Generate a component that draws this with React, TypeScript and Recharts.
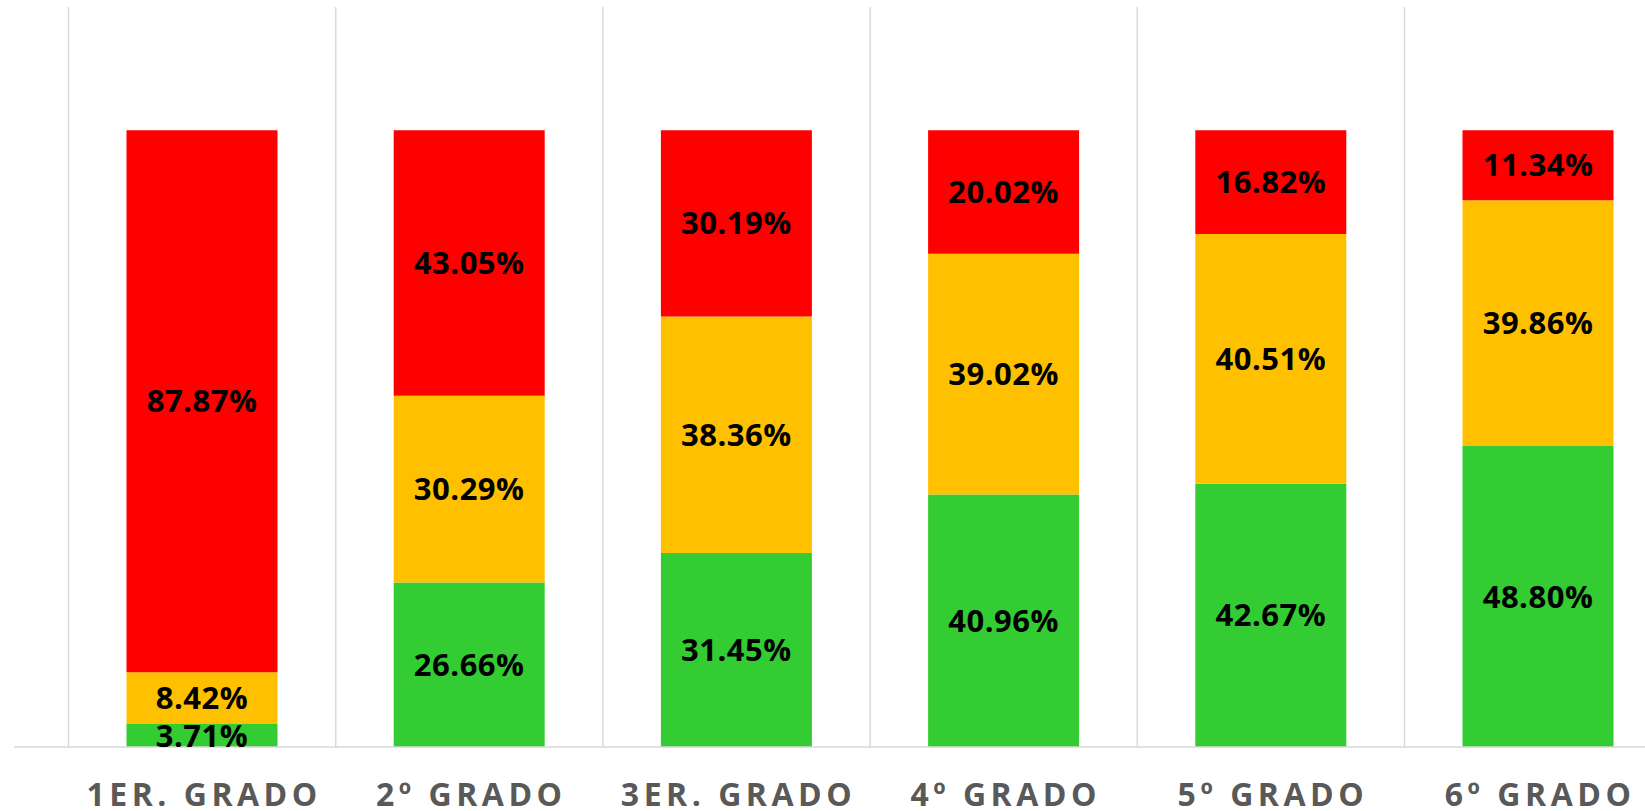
import React from 'react';
import { BarChart, Bar, XAxis, YAxis, LabelList, ReferenceLine } from 'recharts';

// grados y porcentajes por nivel de logro
const grados = ['1ER. GRADO', '2º GRADO', '3ER. GRADO', '4º GRADO', '5º GRADO', '6º GRADO'];
const verde = [3.71, 26.66, 31.45, 40.96, 42.67, 48.8];
const amarillo = [8.42, 30.29, 38.36, 39.02, 40.51, 39.86];
const rojo = [87.87, 43.05, 30.19, 20.02, 16.82, 11.34];

const data = grados.map((g, i) => ({
  grado: g,
  verde: verde[i],
  amarillo: amarillo[i],
  rojo: rojo[i],
}));

const GRID = '#d9d9d9';
const FONT = '"Open Sans", "Liberation Sans", sans-serif';

const fmt = (v: any) => `${Number(v).toFixed(2)}%`;

const labelStyle = {
  fill: '#000',
  fontSize: 31,
  fontWeight: 700,
  fontFamily: FONT,
  letterSpacing: 0.5,
};

function GradoTick({ x, y, payload }: any) {
  return (
    <text
      x={x + 2}
      y={y + 59}
      textAnchor="middle"
      fill="#595959"
      fontSize={32}
      fontWeight={700}
      fontFamily={FONT}
      letterSpacing={4.5}
    >
      {payload.value}
    </text>
  );
}

export default function App() {
  return (
    <div
      style={{
        position: 'absolute',
        left: 0,
        top: 0,
        width: 1645,
        height: 811,
        overflow: 'hidden',
        background: '#fff',
      }}
    >
      <BarChart
        width={1700}
        height={811}
        data={data}
        margin={{ top: 7, right: 0, left: 14, bottom: 0 }}
      >
        <XAxis
          dataKey="grado"
          height={64}
          padding={{ left: 54.5, right: 28.3 }}
          axisLine={{ stroke: GRID, strokeWidth: 1.5 }}
          tickLine={false}
          tickSize={0}
          tickMargin={0}
          interval={0}
          tick={<GradoTick />}
        />
        <YAxis hide domain={[0, 120]} />
        {grados.map((g) => (
          <ReferenceLine
            key={g}
            x={g}
            position="start"
            stroke={GRID}
            strokeWidth={1.5}
            ifOverflow="visible"
          />
        ))}
        <Bar dataKey="verde" stackId="a" fill="#33CC33" barSize={151} isAnimationActive={false}>
          <LabelList dataKey="verde" position="center" formatter={fmt} style={labelStyle} />
        </Bar>
        <Bar dataKey="amarillo" stackId="a" fill="#FFC000" barSize={151} isAnimationActive={false}>
          <LabelList dataKey="amarillo" position="center" formatter={fmt} style={labelStyle} />
        </Bar>
        <Bar dataKey="rojo" stackId="a" fill="#FF0000" barSize={151} isAnimationActive={false}>
          <LabelList dataKey="rojo" position="center" formatter={fmt} style={labelStyle} />
        </Bar>
      </BarChart>
    </div>
  );
}
